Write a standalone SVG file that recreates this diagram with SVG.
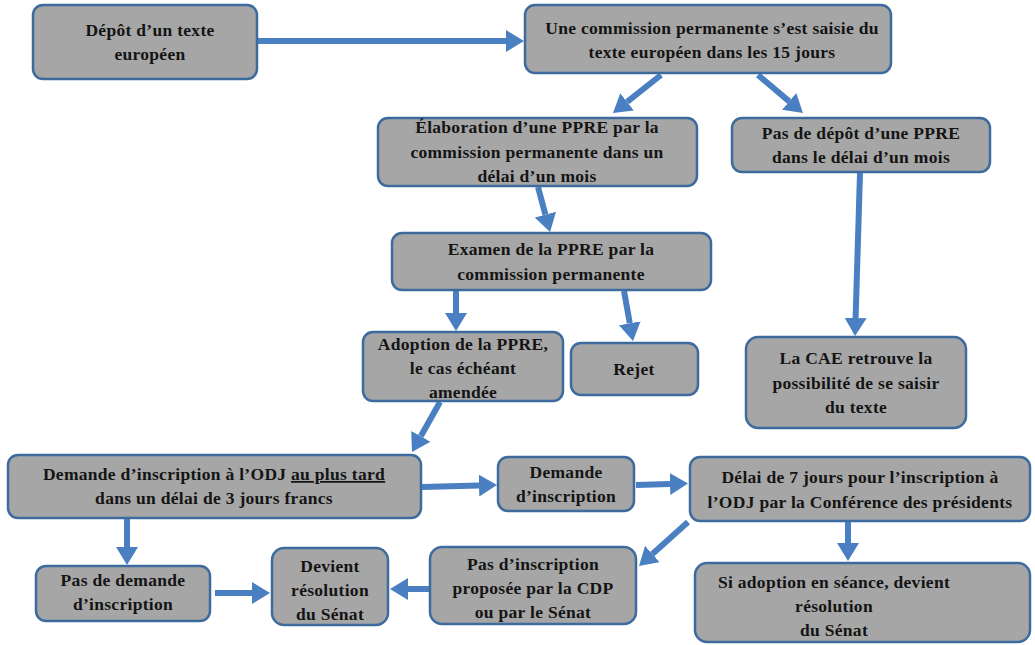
<svg xmlns="http://www.w3.org/2000/svg" width="1035" height="645" viewBox="0 0 1035 645">
  <style>
    .box { fill: #a6a6a6; stroke: #3d6b9e; stroke-width: 2.5; }
    .lbl { font-family: "Liberation Serif", "DejaVu Serif", serif; font-weight: bold; font-size: 17.5px; letter-spacing: 0.3px; fill: #141414; text-anchor: middle; }
    .arr { stroke: #4a7fc1; stroke-width: 6; fill: none; marker-end: url(#head); }
  </style>
  <defs>
    <marker id="head" markerUnits="userSpaceOnUse" markerWidth="18" markerHeight="22" refX="0" refY="11" orient="auto" viewBox="0 0 18 22">
      <path d="M0,0 L18,11 L0,22 z" fill="#4a7fc1"/>
    </marker>
  </defs>
  <rect width="1035" height="645" fill="#ffffff"/>

  <g id="connectors">
    <line class="arr" x1="258" y1="41" x2="506" y2="41"/>
    <line class="arr" x1="661" y1="75" x2="627.1" y2="101.8"/>
    <line class="arr" x1="758" y1="75" x2="789.2" y2="101.4"/>
    <line class="arr" x1="538" y1="187" x2="545.4" y2="214.6"/>
    <line class="arr" x1="456" y1="291" x2="456" y2="313"/>
    <line class="arr" x1="624" y1="291" x2="629.8" y2="323.3"/>
    <line class="arr" x1="860" y1="173" x2="855.6" y2="318"/>
    <line class="arr" x1="440" y1="402" x2="420.8" y2="436.3"/>
    <line class="arr" x1="422" y1="487" x2="479" y2="485.5"/>
    <line class="arr" x1="636" y1="485" x2="670" y2="484"/>
    <line class="arr" x1="127" y1="519" x2="127" y2="547"/>
    <line class="arr" x1="215" y1="593" x2="252" y2="593"/>
    <line class="arr" x1="430" y1="589" x2="408" y2="589"/>
    <line class="arr" x1="688" y1="522" x2="652.4" y2="554"/>
    <line class="arr" x1="848" y1="522" x2="848" y2="543"/>
  </g>

  <g id="depot">
    <rect class="box" x="33" y="5" width="224" height="74" rx="10"/>
    <text class="lbl" x="150" y="36">Dépôt d’un texte</text>
    <text class="lbl" x="150" y="60">européen</text>
  </g>
  <g id="saisine">
    <rect class="box" x="525" y="5" width="366" height="68" rx="10"/>
    <text class="lbl" x="712" y="34">Une commission permanente s’est saisie du</text>
    <text class="lbl" x="712" y="58">texte européen dans les 15 jours</text>
  </g>
  <g id="elaboration">
    <rect class="box" x="378" y="118" width="319" height="68" rx="10"/>
    <text class="lbl" x="537" y="133">Élaboration d’une PPRE par la</text>
    <text class="lbl" x="537" y="158">commission permanente dans un</text>
    <text class="lbl" x="537" y="182">délai d’un mois</text>
  </g>
  <g id="pas-depot">
    <rect class="box" x="732" y="118" width="258" height="54" rx="10"/>
    <text class="lbl" x="861" y="139">Pas de dépôt d’une PPRE</text>
    <text class="lbl" x="861" y="163">dans le délai d’un mois</text>
  </g>
  <g id="examen">
    <rect class="box" x="392" y="233" width="319" height="57" rx="10"/>
    <text class="lbl" x="551" y="255">Examen de la PPRE par la</text>
    <text class="lbl" x="551" y="280">commission permanente</text>
  </g>
  <g id="adoption">
    <rect class="box" x="363" y="332" width="200" height="69" rx="10"/>
    <text class="lbl" x="463" y="350">Adoption de la PPRE,</text>
    <text class="lbl" x="463" y="374">le cas échéant</text>
    <text class="lbl" x="463" y="398">amendée</text>
  </g>
  <g id="rejet">
    <rect class="box" x="571" y="343" width="127" height="52" rx="10"/>
    <text class="lbl" x="634" y="375">Rejet</text>
  </g>
  <g id="cae">
    <rect class="box" x="746" y="337" width="220" height="91" rx="12"/>
    <text class="lbl" x="856" y="364">La CAE retrouve la</text>
    <text class="lbl" x="856" y="389">possibilité de se saisir</text>
    <text class="lbl" x="856" y="413">du texte</text>
  </g>
  <g id="demande-odj">
    <rect class="box" x="8" y="455" width="413" height="63" rx="10"/>
    <text class="lbl" x="214" y="480">Demande d’inscription à l’ODJ <tspan text-decoration="underline">au plus tard</tspan></text>
    <text class="lbl" x="214" y="504">dans un délai de 3 jours francs</text>
  </g>
  <g id="demande">
    <rect class="box" x="498" y="457" width="136" height="54" rx="10"/>
    <text class="lbl" x="566" y="478">Demande</text>
    <text class="lbl" x="566" y="502">d’inscription</text>
  </g>
  <g id="delai-7">
    <rect class="box" x="690" y="457" width="340" height="64" rx="10"/>
    <text class="lbl" x="860" y="483">Délai de 7 jours pour l’inscription à</text>
    <text class="lbl" x="860" y="508">l’ODJ par la Conférence des présidents</text>
  </g>
  <g id="pas-demande">
    <rect class="box" x="36" y="566" width="174" height="55" rx="10"/>
    <text class="lbl" x="123" y="586">Pas de demande</text>
    <text class="lbl" x="123" y="610">d’inscription</text>
  </g>
  <g id="resolution">
    <rect class="box" x="272" y="548" width="116" height="77" rx="12"/>
    <text class="lbl" x="330" y="572">Devient</text>
    <text class="lbl" x="330" y="596">résolution</text>
    <text class="lbl" x="330" y="620">du Sénat</text>
  </g>
  <g id="pas-inscription">
    <rect class="box" x="430" y="547" width="206" height="77" rx="12"/>
    <text class="lbl" x="533" y="570">Pas d’inscription</text>
    <text class="lbl" x="533" y="594">proposée par la CDP</text>
    <text class="lbl" x="533" y="618">ou par le Sénat</text>
  </g>
  <g id="seance">
    <rect class="box" x="695" y="563" width="335" height="79" rx="12"/>
    <text class="lbl" x="834" y="588">Si adoption en séance, devient</text>
    <text class="lbl" x="834" y="612">résolution</text>
    <text class="lbl" x="834" y="636">du Sénat</text>
  </g>
</svg>
